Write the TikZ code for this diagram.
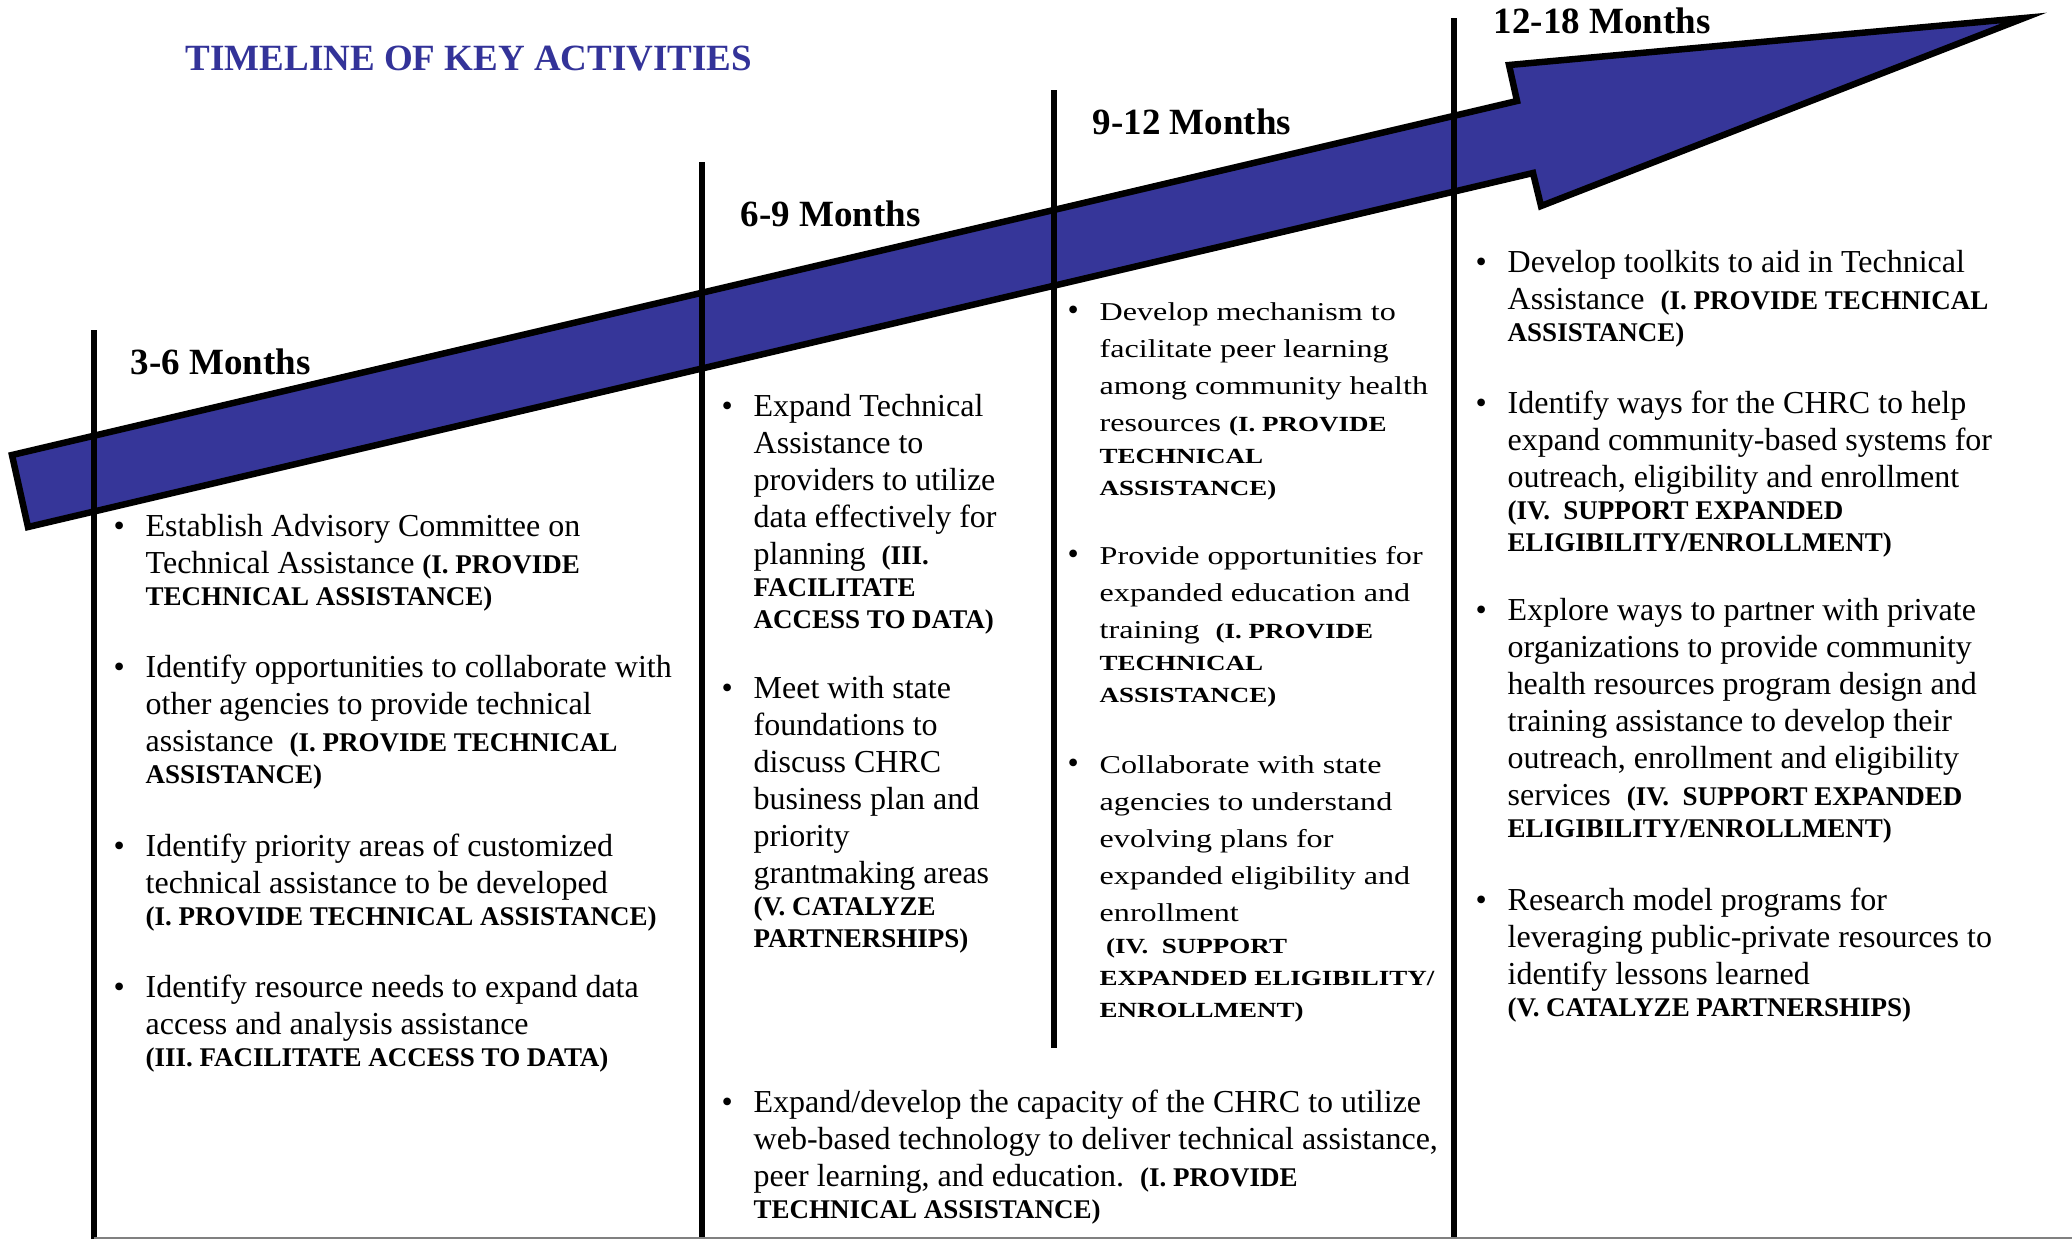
\documentclass[tikz,border=0pt]{standalone}
\usepackage{fontspec}
\setmainfont{Liberation Serif}
\newfontfamily\widefont[FakeStretch=1.25]{Liberation Serif}
\definecolor{arrowblue}{RGB}{54,54,153}
\definecolor{titleblue}{RGB}{51,51,153}

\newcommand{\bodytext}{\fontsize{3.2mm}{3.7mm}\selectfont}
\newcommand{\goalsize}{\fontsize{2.7mm}{3.7mm}\selectfont}
\newcommand{\goal}[1]{{\bfseries\goalsize #1}}
\newcommand{\bitem}[1]{\makebox[3.2mm][l]{\normalfont\bodytext\textbullet}\parbox[t]{90mm}{#1}}

\begin{document}
\begin{tikzpicture}[x=0.1mm, y=-0.1mm,
            bar/.style = {line width=0.55mm},
            span/.style = {anchor=base west, inner sep=0pt,
                font=\bfseries\fontsize{3.7mm}{4mm}\selectfont},
            item/.style = {anchor=base west, inner sep=0pt, font=\bodytext},
            wide/.style = {font={\widefont\fontsize{2.57mm}{3.7mm}\selectfont
                \def\goalsize{\fontsize{2.16mm}{3.7mm}\selectfont}}}]
            \useasboundingbox (0,0) rectangle (2072,1239);
            \node[span, text=titleblue] (title) at (185,70) {TIMELINE OF KEY ACTIVITIES};
            % the arrow
            \draw[line width=0.65mm, fill=arrowblue] (12,455) -- (1517,101) -- (1509,65)
                -- (2024,18) -- (1541,206) -- (1533,173) -- (28,527) -- cycle;
            % dividers
            \coordinate (t1) at (94,330);   \coordinate (b1) at (94,1239);
            \coordinate (t2) at (702,162);  \coordinate (b2) at (702,1239);
            \coordinate (t3) at (1054,90);  \coordinate (b3) at (1054,1048);
            \coordinate (t4) at (1454,18);  \coordinate (b4) at (1454,1239);
            \coordinate (rim) at (2072,1238);
            \draw[bar] (t1) -- (b1);
            \draw[bar] (t2) -- (b2);
            \draw[bar] (t3) -- (b3);
            \draw[bar] (t4) -- (b4);
            \draw[gray, line width=0.2mm] ([yshift=0.1mm]b1) -- (rim);
            \node[span] (m1) at (130,374) {3-6 Months};
            \node[span] (m2) at (740,226) {6-9 Months};
            \node[span] (m3) at (1092,134) {9-12 Months};
            \node[span] (m4) at (1493,33) {12-18 Months};
            % 3-6 months
            \node[item] (a1) at (113,536) {\bitem{Establish Advisory Committee on\\
                Technical Assistance \goal{(I. PROVIDE}\\[-0.5mm]
                \goal{TECHNICAL ASSISTANCE)}}};
            \node[item] (a2) at (113,677) {\bitem{Identify opportunities to collaborate with\\
                other agencies to provide technical\\
                assistance\ \ \goal{(I. PROVIDE TECHNICAL}\\[-0.5mm]
                \goal{ASSISTANCE)}}};
            \node[item] (a3) at (113,856) {\bitem{Identify priority areas of customized\\
                technical assistance to be developed\\[-0.5mm]
                \goal{(I. PROVIDE TECHNICAL ASSISTANCE)}}};
            \node[item] (a4) at (113,997) {\bitem{Identify resource needs to expand data\\
                access and analysis assistance\\[-0.5mm]
                \goal{(III. FACILITATE ACCESS TO DATA)}}};
            % 6-9 months
            \node[item] (b1t) at (721,416) {\bitem{Expand Technical\\
                Assistance to\\
                providers to utilize\\
                data effectively for\\
                planning\ \ \goal{(III.}\\[-0.5mm]
                \goal{FACILITATE}\\[-0.5mm]
                \goal{ACCESS TO DATA)}}};
            \node[item] (b2t) at (721,698) {\bitem{Meet with state\\
                foundations to\\
                discuss CHRC\\
                business plan and\\
                priority\\
                grantmaking areas\\[-0.5mm]
                \goal{(V. CATALYZE}\\[-0.5mm]
                \goal{PARTNERSHIPS)}}};
            \node[item] (web) at (721,1112) {\bitem{Expand/develop the capacity of the CHRC to utilize\\
                web-based technology to deliver technical assistance,\\
                peer learning, and education.\ \ \goal{(I. PROVIDE}\\[-0.5mm]
                \goal{TECHNICAL ASSISTANCE)}}};
            % 9-12 months
            \node[item, wide] (c1) at (1067,320) {\bitem{Develop mechanism to\\
                facilitate peer learning\\
                among community health\\
                resources \goal{(I. PROVIDE}\\[-0.5mm]
                \goal{TECHNICAL}\\[-0.5mm]
                \goal{ASSISTANCE)}}};
            \node[item, wide] (c2) at (1067,564) {\bitem{Provide opportunities for\\
                expanded education and\\
                training\ \ \goal{(I. PROVIDE}\\[-0.5mm]
                \goal{TECHNICAL}\\[-0.5mm]
                \goal{ASSISTANCE)}}};
            \node[item, wide] (c3) at (1067,773) {\bitem{Collaborate with state\\
                agencies to understand\\
                evolving plans for\\
                expanded eligibility and\\
                enrollment\\[-0.5mm]
                \goal{\hspace*{0.3em}(IV.\ \ SUPPORT}\\[-0.5mm]
                \goal{EXPANDED ELIGIBILITY/}\\[-0.5mm]
                \goal{ENROLLMENT)}}};
            % 12-18 months
            \node[item] (d1) at (1475,272) {\bitem{Develop toolkits to aid in Technical\\
                Assistance\ \ \goal{(I. PROVIDE TECHNICAL}\\[-0.5mm]
                \goal{ASSISTANCE)}}};
            \node[item] (d2) at (1475,413) {\bitem{Identify ways for the CHRC to help\\
                expand community-based systems for\\
                outreach, eligibility and enrollment\\[-0.5mm]
                \goal{(IV.\ \ SUPPORT EXPANDED}\\[-0.5mm]
                \goal{ELIGIBILITY/ENROLLMENT)}}};
            \node[item] (d3) at (1475,620) {\bitem{Explore ways to partner with private\\
                organizations to provide community\\
                health resources program design and\\
                training assistance to develop their\\
                outreach, enrollment and eligibility\\
                services\ \ \goal{(IV.\ \ SUPPORT EXPANDED}\\[-0.5mm]
                \goal{ELIGIBILITY/ENROLLMENT)}}};
            \node[item] (d4) at (1475,910) {\bitem{Research model programs for\\
                leveraging public-private resources to\\
                identify lessons learned\\[-0.5mm]
                \goal{(V. CATALYZE PARTNERSHIPS)}}};
        \end{tikzpicture}
\end{document}
